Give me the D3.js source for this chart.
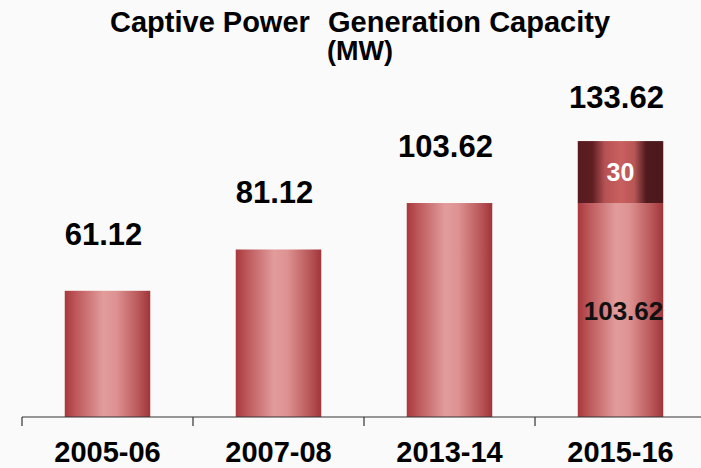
<!DOCTYPE html>
<html>
<head>
<meta charset="utf-8">
<script src="https://cdn.jsdelivr.net/npm/d3@7"></script>
<style>
    body { margin: 0; background: #fafafa; }
    svg { display: block; font-family: "Liberation Sans", Arial, sans-serif; }
</style>
</head>
<body>
<svg id="chart" width="701" height="468"></svg>
<script>
// chart data
var years = ["2005-06", "2007-08", "2013-14", "2015-16"]
var baseCapacity = [61.12, 81.12, 103.62, 103.62]
var addedCapacity = [0, 0, 0, 30]

var width = 701,
    height = 468,
    axisY = 417

var svg = d3.select("#chart")

// gradients for the cylinder look
var defs = svg.append("defs")

var lightGrad = defs.append("linearGradient").attr("id", "lightGrad")
    .attr("x1", "0%").attr("x2", "100%")
var lightStops = [[0, "#a8383c"], [0.12, "#bb5558"], [0.45, "#e29c9c"], [0.6, "#de9292"], [0.85, "#bb5a5c"], [1, "#a0353a"]]
lightStops.forEach(function(s) {
    lightGrad.append("stop").attr("offset", s[0]).attr("stop-color", s[1])
})

var darkGrad = defs.append("linearGradient").attr("id", "darkGrad")
    .attr("x1", "0%").attr("x2", "100%")
var darkStops = [[0, "#561a1e"], [0.17, "#5e1e22"], [0.32, "#b65254"], [0.5, "#c9605f"], [0.66, "#b85656"], [0.8, "#4f1a1d"], [1, "#4c181b"]]
darkStops.forEach(function(s) {
    darkGrad.append("stop").attr("offset", s[0]).attr("stop-color", s[1])
})

// scales
var x = d3.scaleBand()
    .domain(years)
    .range([22, 706])
    .paddingInner(0.5)
    .paddingOuter(0.25)

var y = d3.scaleLinear()
    .domain([0, 200])
    .range([axisY, 4])

var rows = years.map(function(yr, i) {
    return { year: yr, base: baseCapacity[i], added: addedCapacity[i], total: baseCapacity[i] + addedCapacity[i] }
})

// title
var title = svg.append("g").attr("font-weight", "bold").attr("font-size", "29px").attr("fill", "#000")
title.append("text").attr("x", 110).attr("y", 32).text("Captive Power")
title.append("text").attr("x", 328).attr("y", 32).text("Generation Capacity")
title.append("text").attr("x", 327).attr("y", 60).attr("font-size", "27px").text("(MW)")

// base bars
svg.append("g").selectAll("rect.base")
    .data(rows)
    .join("rect")
    .attr("class", "base")
    .attr("x", function(d) { return x(d.year) })
    .attr("width", x.bandwidth())
    .attr("y", function(d) { return y(d.base) })
    .attr("height", function(d) { return y(0) - y(d.base) })
    .attr("fill", "url(#lightGrad)")

// added capacity segment
var stacked = rows.filter(function(d) { return d.added > 0 })

svg.append("g").selectAll("rect.added")
    .data(stacked)
    .join("rect")
    .attr("class", "added")
    .attr("x", function(d) { return x(d.year) })
    .attr("width", x.bandwidth())
    .attr("y", function(d) { return y(d.total) })
    .attr("height", function(d) { return y(d.base) - y(d.total) })
    .attr("fill", "url(#darkGrad)")

// segment labels inside the stacked bar
svg.append("g").selectAll("text.addLbl")
    .data(stacked)
    .join("text")
    .attr("class", "addLbl")
    .attr("text-anchor", "middle")
    .attr("x", function(d) { return x(d.year) + x.bandwidth() / 2 })
    .attr("y", function(d) { return (y(d.total) + y(d.base)) / 2 + 9 })
    .attr("fill", "#fff")
    .attr("font-weight", "bold")
    .attr("font-size", "25px")
    .text(function(d) { return d.added })

svg.append("g").selectAll("text.baseLbl")
    .data(stacked)
    .join("text")
    .attr("class", "baseLbl")
    .attr("text-anchor", "middle")
    .attr("x", function(d) { return x(d.year) + x.bandwidth() / 2 + 3 })
    .attr("y", function(d) { return (y(d.base) + y(0)) / 2 + 10 })
    .attr("fill", "#111")
    .attr("font-weight", "bold")
    .attr("font-size", "26px")
    .text(function(d) { return d.base.toFixed(2) })

// total labels above bars
svg.append("g").selectAll("text.total")
    .data(rows)
    .join("text")
    .attr("class", "total")
    .attr("text-anchor", "middle")
    .attr("x", function(d) { return x(d.year) + x.bandwidth() / 2 - 4 })
    .attr("y", function(d) { return y(d.total) - (d.added > 0 ? 33 : 46) })
    .attr("fill", "#000")
    .attr("font-weight", "bold")
    .attr("font-size", "31px")
    .text(function(d) { return d.total.toFixed(2) })

// x axis: line, ticks between categories, labels
var axis = svg.append("g").attr("class", "axis")

axis.append("line")
    .attr("x1", 22).attr("x2", width)
    .attr("y1", axisY).attr("y2", axisY)
    .attr("stroke", "#333").attr("stroke-width", 1.2)

var edge = x.step() * x.paddingOuter()
axis.selectAll("line.tick")
    .data(years)
    .join("line")
    .attr("class", "tick")
    .attr("x1", function(d) { return x(d) - edge })
    .attr("x2", function(d) { return x(d) - edge })
    .attr("y1", axisY).attr("y2", axisY + 9)
    .attr("stroke", "#333").attr("stroke-width", 1.2)

axis.selectAll("text")
    .data(years)
    .join("text")
    .attr("text-anchor", "middle")
    .attr("x", function(d) { return x(d) + x.bandwidth() / 2 })
    .attr("y", 462)
    .attr("font-weight", "bold")
    .attr("font-size", "29px")
    .attr("fill", "#000")
    .text(function(d) { return d })
</script>
</body>
</html>
